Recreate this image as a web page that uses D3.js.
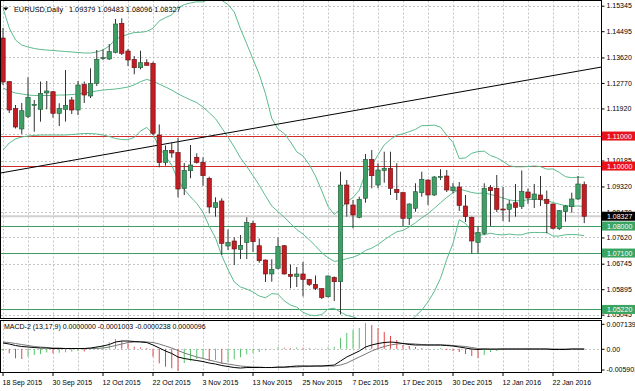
<!DOCTYPE html>
<html>
<head>
<meta charset="utf-8">
<script src="https://cdn.jsdelivr.net/npm/d3@7"></script>
<style>
  body { margin: 0; background: #fff; }
  svg { display: block; font-family: "Liberation Sans", Arial, sans-serif; }
</style>
</head>
<body>
<svg id="chart" width="635" height="391"></svg>
<script>
// ---- data ----
const dates = [
  "2015-09-18","2015-09-21","2015-09-22","2015-09-23","2015-09-24","2015-09-25","2015-09-28","2015-09-29","2015-09-30","2015-10-01",
  "2015-10-02","2015-10-05","2015-10-06","2015-10-07","2015-10-08","2015-10-09","2015-10-12","2015-10-13","2015-10-14","2015-10-15",
  "2015-10-16","2015-10-19","2015-10-20","2015-10-21","2015-10-22","2015-10-23","2015-10-26","2015-10-27","2015-10-28","2015-10-29",
  "2015-10-30","2015-11-02","2015-11-03","2015-11-04","2015-11-05","2015-11-06","2015-11-09","2015-11-10","2015-11-11","2015-11-12",
  "2015-11-13","2015-11-16","2015-11-17","2015-11-18","2015-11-19","2015-11-20","2015-11-23","2015-11-24","2015-11-25","2015-11-26",
  "2015-11-27","2015-11-30","2015-12-01","2015-12-02","2015-12-03","2015-12-04","2015-12-07","2015-12-08","2015-12-09","2015-12-10",
  "2015-12-11","2015-12-14","2015-12-15","2015-12-16","2015-12-17","2015-12-18","2015-12-21","2015-12-22","2015-12-23","2015-12-24",
  "2015-12-28","2015-12-29","2015-12-30","2015-12-31","2016-01-04","2016-01-05","2016-01-06","2016-01-07","2016-01-08","2016-01-11",
  "2016-01-12","2016-01-13","2016-01-14","2016-01-15","2016-01-18","2016-01-19","2016-01-20","2016-01-21","2016-01-22","2016-01-25",
  "2016-01-26","2016-01-27","2016-01-28","2016-01-29"
];

const open = [
  1.14268,1.12812,1.11918,1.11235,1.11652,1.12035,1.11892,1.12435,1.12478,1.11758,
  1.11892,1.12202,1.11868,1.12718,1.12335,1.12758,1.13585,1.13568,1.13792,1.14758,
  1.13835,1.13558,1.13278,1.13445,1.13425,1.11035,1.10118,1.10525,1.10452,1.09252,
  1.09845,1.10292,1.10125,1.09592,1.08618,1.08835,1.07335,1.07502,1.07225,1.07452,
  1.08092,1.07345,1.06868,1.06402,1.06592,1.07345,1.06392,1.06318,1.06402,1.06218,
  1.06058,1.05912,1.05645,1.06292,1.06145,1.09368,1.08702,1.08292,1.08925,1.10225,
  1.09368,1.09852,1.09925,1.09225,1.09112,1.08258,1.08592,1.09112,1.09535,1.09035,
  1.09635,1.09668,1.09178,1.09302,1.08668,1.08292,1.07452,1.07758,1.09292,1.09258,
  1.08568,1.08558,1.08778,1.08652,1.09135,1.08892,1.09035,1.08892,1.08735,1.07912,
  1.08485,1.08645,1.08902,1.09379
];
const high = [
  1.14602,1.12835,1.12035,1.12102,1.12958,1.12202,1.12818,1.12835,1.12502,1.12092,
  1.13202,1.12302,1.12835,1.12818,1.13258,1.13868,1.13892,1.14068,1.14902,1.14925,
  1.13902,1.13668,1.13845,1.13558,1.13478,1.11385,1.10685,1.10785,1.10935,1.10102,
  1.10702,1.10425,1.10292,1.09645,1.08958,1.08925,1.07885,1.07625,1.07702,1.08292,
  1.08178,1.07585,1.06885,1.06892,1.07618,1.07368,1.06718,1.06635,1.06802,1.06235,
  1.06352,1.05935,1.06352,1.06318,1.09812,1.09535,1.08868,1.08978,1.10402,1.10535,
  1.10092,1.10478,1.10478,1.10092,1.09145,1.08758,1.09425,1.09812,1.09552,1.09668,
  1.09892,1.09868,1.09435,1.09468,1.09035,1.08312,1.07985,1.09425,1.09368,1.09702,
  1.09302,1.08868,1.09402,1.09852,1.09252,1.09402,1.09668,1.09185,1.08752,1.08535,
  1.08702,1.09112,1.09668,1.09483
];
const low = [
  1.12702,1.11768,1.11252,1.11068,1.11602,1.11145,1.11478,1.11892,1.11612,1.11335,
  1.11485,1.11735,1.11702,1.12102,1.12268,1.12668,1.13535,1.13535,1.13758,1.13702,
  1.13335,1.13058,1.13225,1.13352,1.11035,1.09958,1.10012,1.10278,1.08958,1.09035,
  1.09592,1.10085,1.09345,1.08425,1.08312,1.07035,1.07202,1.06702,1.06902,1.06902,
  1.07135,1.06778,1.06135,1.06145,1.06558,1.06385,1.05925,1.05968,1.05652,1.06002,
  1.05868,1.05568,1.05618,1.05502,1.05050,1.08312,1.07925,1.08258,1.08778,1.09258,
  1.09258,1.09445,1.09035,1.08868,1.08002,1.08035,1.08478,1.08978,1.08702,1.09002,
  1.09535,1.09135,1.09102,1.08502,1.08135,1.07092,1.07092,1.07702,1.08002,1.08468,
  1.08168,1.08135,1.08312,1.08568,1.08735,1.08602,1.08668,1.07758,1.07892,1.07868,
  1.08145,1.08445,1.08868,1.08096
];
const close = [
  1.12802,1.11868,1.11302,1.11845,1.12292,1.12058,1.12425,1.12502,1.11758,1.11925,
  1.12018,1.11868,1.12702,1.12368,1.12758,1.13558,1.13612,1.13812,1.14735,1.13758,
  1.13535,1.13278,1.13445,1.13358,1.11092,1.10112,1.10525,1.10435,1.09235,1.09858,
  1.10035,1.10118,1.09678,1.08635,1.08778,1.07425,1.07458,1.07235,1.07358,1.08118,
  1.07478,1.06845,1.06402,1.06558,1.07325,1.06402,1.06325,1.06402,1.06218,1.06058,
  1.05925,1.05612,1.06335,1.06145,1.09368,1.08735,1.08368,1.08892,1.10225,1.09678,
  1.09868,1.09925,1.09258,1.09112,1.08258,1.08735,1.09145,1.09558,1.09035,1.09635,
  1.09652,1.09202,1.09302,1.08685,1.08312,1.07502,1.07785,1.09258,1.09178,1.08558,
  1.08552,1.08735,1.08625,1.09152,1.08935,1.09068,1.08885,1.08752,1.07925,1.08512,
  1.08668,1.08902,1.09402,1.08327
];

// Bollinger band lines as drawn
const bbUpper = [
  1.15268,1.14602,1.14202,1.14035,1.13968,1.13918,1.13885,1.13868,1.13852,1.13835,
  1.13818,1.13802,1.13785,1.13768,1.13768,1.13802,1.13868,1.14002,1.14235,1.14312,
  1.14395,1.14452,1.14458,1.14488,1.14595,1.14838,1.14948,1.15038,1.15278,1.15382,
  1.15438,1.15475,1.15472,1.15565,1.15552,1.15525,1.15385,1.15135,1.14568,1.14072,
  1.13562,1.13055,1.12408,1.11588,1.11235,1.11082,1.10805,1.10472,1.10338,1.10048,
  1.09665,1.09172,1.08658,1.08382,1.08568,1.08808,1.08948,1.09198,1.09755,1.10025,
  1.10372,1.10705,1.10888,1.11028,1.11075,1.11145,1.11225,1.11345,1.11352,1.11365,
  1.11298,1.11022,1.10785,1.10252,1.10272,1.10425,1.10482,1.10498,1.10348,1.10278,
  1.10158,1.10012,1.09975,1.09975,1.09985,1.10002,1.09982,1.09895,1.09905,1.09788,
  1.09645,1.09612,1.09628,1.09625
];
const bbMiddle = [
  1.12602,1.12502,1.12435,1.12402,1.12368,1.12352,1.12352,1.12352,1.12352,1.12368,
  1.12368,1.12385,1.12402,1.12435,1.12468,1.12502,1.12535,1.12552,1.12568,1.12598,
  1.12635,1.12705,1.12812,1.12888,1.12828,1.12732,1.12635,1.12532,1.12405,1.12302,
  1.12205,1.12115,1.11965,1.11778,1.11578,1.11272,1.10965,1.10635,1.10268,1.09985,
  1.09682,1.09362,1.09008,1.08668,1.08482,1.08295,1.08085,1.07885,1.07732,1.07542,
  1.07338,1.07112,1.06945,1.06822,1.06848,1.06915,1.06962,1.07045,1.07188,1.07265,
  1.07385,1.07538,1.07682,1.07808,1.07855,1.07972,1.08112,1.08272,1.08412,1.08592,
  1.08778,1.08955,1.09105,1.09232,1.09178,1.09118,1.09088,1.09105,1.09055,1.08998,
  1.08932,1.08872,1.08842,1.08842,1.08878,1.08895,1.08882,1.08842,1.08785,1.08728,
  1.08678,1.08665,1.08668,1.08652
];
const bbLower = [
  1.10535,1.10768,1.10902,1.10968,1.11002,1.11018,1.11035,1.11035,1.11035,1.11035,
  1.11035,1.11052,1.11068,1.11085,1.11085,1.11068,1.11035,1.10985,1.10918,1.10885,
  1.10875,1.10958,1.11165,1.11288,1.11062,1.10625,1.10322,1.10025,1.09532,1.09222,
  1.08972,1.08755,1.08458,1.07992,1.07605,1.07018,1.06545,1.06135,1.05968,1.05898,
  1.05802,1.05668,1.05608,1.05748,1.05728,1.05508,1.05365,1.05298,1.05125,1.05035,
  1.05012,1.05052,1.05232,1.05262,1.05128,1.05022,1.04975,1.04892,1.04622,1.04505,
  1.04398,1.04372,1.04475,1.04588,1.04635,1.04798,1.04998,1.05198,1.05472,1.05818,
  1.06258,1.06888,1.07425,1.08212,1.08085,1.07812,1.07695,1.07712,1.07762,1.07718,
  1.07705,1.07732,1.07708,1.07708,1.07772,1.07788,1.07782,1.07788,1.07665,1.07668,
  1.07712,1.07718,1.07708,1.07678
];

// MACD-2 (13,17,9) sub-window
const macdHist = [
  -0.00063,-0.00129,-0.00271,-0.00291,-0.00226,-0.00177,-0.00149,-0.00100,-0.00129,-0.00114,
  -0.00100,-0.00083,-0.00063,-0.00077,0.00023,0.00060,0.00109,0.00186,0.00280,0.00223,
  0.00157,0.00060,0.00037,0.00023,-0.00226,-0.00414,-0.00511,-0.00557,-0.00634,-0.00406,
  -0.00349,-0.00291,-0.00263,-0.00349,-0.00320,-0.00434,-0.00377,-0.00300,-0.00240,-0.00160,
  -0.00120,-0.00090,-0.00040,0.00010,0.00050,0.00030,0.00020,0.00040,0.00030,0.00020,
  0.00010,0.00005,0.00040,0.00060,0.00309,0.00451,0.00537,0.00594,0.00737,0.00680,
  0.00594,0.00480,0.00366,0.00251,0.00109,0.00080,0.00051,0.00023,-0.00006,0.00009,
  0.00023,-0.00034,-0.00063,-0.00091,-0.00149,-0.00206,-0.00263,-0.00177,-0.00091,-0.00063,
  -0.00034,-0.00034,-0.00034,-0.00020,-0.00020,-0.00006,-0.00006,-0.00006,-0.00020,-0.00011,
  -0.00006,-0.00003,0.00000,0.00000
];
const macdMain = [
  0.00166,0.00137,0.00094,0.00066,0.00051,0.00037,0.00023,0.00023,0.00009,0.00009,
  0.00009,0.00009,0.00009,0.00009,0.00023,0.00051,0.00080,0.00123,0.00194,0.00223,
  0.00223,0.00209,0.00194,0.00180,0.00109,0.00023,-0.00063,-0.00134,-0.00234,-0.00277,
  -0.00306,-0.00334,-0.00363,-0.00406,-0.00434,-0.00477,-0.00506,-0.00534,-0.00549,-0.00534,
  -0.00534,-0.00534,-0.00534,-0.00534,-0.00520,-0.00520,-0.00506,-0.00491,-0.00491,-0.00491,
  -0.00491,-0.00491,-0.00477,-0.00463,-0.00349,-0.00234,-0.00149,-0.00063,0.00051,0.00109,
  0.00151,0.00180,0.00194,0.00180,0.00151,0.00123,0.00109,0.00109,0.00109,0.00109,
  0.00109,0.00094,0.00080,0.00051,0.00023,-0.00006,-0.00020,-0.00006,-0.00006,-0.00006,
  -0.00006,-0.00006,-0.00006,-0.00006,-0.00006,-0.00006,-0.00006,-0.00006,-0.00020,-0.00020,
  -0.00020,-0.00006,-0.00006,-0.00010
];
const macdSignal = [
  0.00194,0.00180,0.00151,0.00123,0.00094,0.00066,0.00051,0.00037,0.00023,0.00023,
  0.00009,0.00009,0.00009,0.00009,0.00009,0.00009,0.00023,0.00051,0.00094,0.00137,
  0.00180,0.00194,0.00209,0.00194,0.00180,0.00137,0.00080,0.00023,-0.00049,-0.00120,
  -0.00177,-0.00234,-0.00277,-0.00320,-0.00363,-0.00406,-0.00434,-0.00463,-0.00491,-0.00506,
  -0.00520,-0.00520,-0.00534,-0.00534,-0.00534,-0.00534,-0.00520,-0.00520,-0.00506,-0.00506,
  -0.00491,-0.00491,-0.00491,-0.00491,-0.00463,-0.00406,-0.00320,-0.00234,-0.00149,-0.00063,
  0.00009,0.00066,0.00109,0.00137,0.00151,0.00151,0.00137,0.00123,0.00109,0.00109,
  0.00109,0.00109,0.00094,0.00080,0.00066,0.00037,0.00009,-0.00006,-0.00020,-0.00020,
  -0.00006,-0.00006,-0.00006,-0.00006,-0.00006,-0.00006,-0.00006,-0.00006,-0.00006,-0.00006,
  -0.00006,-0.00006,-0.00006,-0.00002
];

// axis ticks and labels
const gridPrices = [1.15345,1.14495,1.13620,1.12770,1.11920,1.11070,1.10185,1.09320,1.08470,1.07620,1.06745,1.05895,1.05045];
const labelPrices = [1.15345,1.14495,1.13620,1.12770,1.11920,1.10185,1.09320,1.08470,1.07620,1.06745,1.05895,1.05045];
const macdTicks = [0.007139, 0, -0.005903];
const macdTickLabels = ["0.007139", "0.00", "-0.005903"];
const dateTicks = ["2015-09-18","2015-09-30","2015-10-12","2015-10-22","2015-11-03","2015-11-13",
                   "2015-11-25","2015-12-07","2015-12-17","2015-12-30","2016-01-12","2016-01-22"];

// horizontal levels and trend line
const redLevels = [1.11000, 1.10000];
const greenLevels = [1.08000, 1.07100, 1.05220];
const bidPrice = 1.08327;
const trendDates = ["2015-10-16", "2016-01-12"];
const trendPrices = [1.10518, 1.12722];

const symbol = "EURUSD,Daily";
const macdLabel = "MACD-2 (13,17,9) 0.0000000 -0.0001003 -0.0000238 0.0000096";

// ---- layout ----
const svg = d3.select("#chart");
const plotRight = 601.5;
const main = { top: 0.5, bottom: 318.5 };
const sub = { top: 320.5, bottom: 372.5 };

const x = d3.scalePoint().domain(dates).range([3, 584.25]);
const xi = d3.scaleLinear().domain([0, dates.length - 1]).range([3, 584.25]);
const y = d3.scaleLinear().domain([1.05045, 1.15345]).range([314.7, 5.7]);
const ym = d3.scaleLinear().domain([-0.005903, 0.007139]).range([369.5, 323.8]);

const parse = d3.timeParse("%Y-%m-%d");
const fmtDate = d3.timeFormat("%-d %b %Y");
const fmt5 = d3.format(".5f");

const defs = svg.append("defs");
defs.append("clipPath").attr("id", "clipMain").append("rect")
  .attr("x", 1).attr("y", 1).attr("width", plotRight - 1).attr("height", main.bottom - 1);
defs.append("clipPath").attr("id", "clipSub").append("rect")
  .attr("x", 1).attr("y", sub.top + 0.5).attr("width", plotRight - 1).attr("height", sub.bottom - sub.top - 1);

// grid
const gridDates = dates.filter((d, i) => i % 4 === 0);
const grid = svg.append("g").attr("stroke", "#c4c4c4").attr("stroke-dasharray", "2,2").attr("stroke-width", 1);
[main, sub].forEach(p => {
  grid.append("g").selectAll("line").data(gridDates).join("line")
    .attr("x1", d => Math.round(x(d)) + 0.5).attr("x2", d => Math.round(x(d)) + 0.5)
    .attr("y1", p.top).attr("y2", p.bottom);
});
grid.append("g").selectAll("line").data(gridPrices).join("line")
  .attr("x1", 1).attr("x2", plotRight)
  .attr("y1", d => Math.round(y(d)) + 0.5).attr("y2", d => Math.round(y(d)) + 0.5);
grid.append("line").attr("x1", 1).attr("x2", plotRight)
  .attr("y1", Math.round(ym(0)) + 0.5).attr("y2", Math.round(ym(0)) + 0.5);

// main window
const gMain = svg.append("g").attr("clip-path", "url(#clipMain)");

// levels
gMain.append("line").attr("x1", 1).attr("x2", plotRight)
  .attr("y1", y(bidPrice)).attr("y2", y(bidPrice))
  .attr("stroke", "#d2d2d2").attr("stroke-width", 2);
gMain.selectAll(".lvl-red").data(redLevels).join("line")
  .attr("x1", 1).attr("x2", plotRight)
  .attr("y1", d => Math.round(y(d)) + 0.5).attr("y2", d => Math.round(y(d)) + 0.5)
  .attr("stroke", "#d42a2a").attr("stroke-width", 1);
gMain.selectAll(".lvl-green").data(greenLevels).join("line")
  .attr("x1", 1).attr("x2", plotRight)
  .attr("y1", d => Math.round(y(d)) + 0.5).attr("y2", d => Math.round(y(d)) + 0.5)
  .attr("stroke", "#3f9e63").attr("stroke-width", 1);

// bollinger bands
const bandLine = d3.line().x((d, i) => x(dates[i])).y(d => y(d));
[bbUpper, bbMiddle, bbLower].forEach(arr => {
  gMain.append("path").datum(arr).attr("d", bandLine)
    .attr("fill", "none").attr("stroke", "#5cbb8c").attr("stroke-width", 1);
});

// trend line, extended across the window
const i0 = dates.indexOf(trendDates[0]), i1 = dates.indexOf(trendDates[1]);
const slope = (trendPrices[1] - trendPrices[0]) / (i1 - i0);
const iL = xi.invert(0), iR = xi.invert(plotRight);
gMain.append("line")
  .attr("x1", 0).attr("y1", y(trendPrices[0] + slope * (iL - i0)))
  .attr("x2", plotRight).attr("y2", y(trendPrices[0] + slope * (iR - i0)))
  .attr("stroke", "#000").attr("stroke-width", 1);

// candles
const bars = dates.map((d, i) => ({ date: d, o: open[i], h: high[i], l: low[i], c: close[i] }));
gMain.append("g").selectAll("line").data(bars).join("line")
  .attr("x1", d => x(d.date)).attr("x2", d => x(d.date))
  .attr("y1", d => y(d.h)).attr("y2", d => y(d.l))
  .attr("stroke", "#333").attr("stroke-width", 1);
gMain.append("g").selectAll("rect").data(bars).join("rect")
  .attr("x", d => x(d.date) - 2.2).attr("width", 4.4)
  .attr("y", d => y(Math.max(d.o, d.c)))
  .attr("height", d => Math.max(1, Math.abs(y(d.o) - y(d.c))))
  .attr("fill", d => d.c >= d.o ? "#3e9f66" : "#c11d22")
  .attr("stroke", d => d.c >= d.o ? "#1f5a36" : "#6a1013")
  .attr("stroke-width", 0.6);

// MACD window
const gSub = svg.append("g").attr("clip-path", "url(#clipSub)");
gSub.append("g").selectAll("line").data(macdHist).join("line")
  .attr("x1", (d, i) => x(dates[i])).attr("x2", (d, i) => x(dates[i]))
  .attr("y1", ym(0)).attr("y2", d => ym(d))
  .attr("stroke", (d, i) => (i > 0 && d < macdHist[i - 1]) ? "#e04848" : "#57c46c")
  .attr("stroke-width", 1);
const macdLine = d3.line().x((d, i) => x(dates[i])).y(d => ym(d));
gSub.append("path").datum(macdSignal).attr("d", macdLine)
  .attr("fill", "none").attr("stroke", "#777").attr("stroke-width", 1);
gSub.append("path").datum(macdMain).attr("d", macdLine)
  .attr("fill", "none").attr("stroke", "#000").attr("stroke-width", 1);

// frames
svg.append("rect").attr("x", 0.5).attr("y", main.top).attr("width", plotRight - 0.5)
  .attr("height", main.bottom - main.top).attr("fill", "none").attr("stroke", "#000");
svg.append("rect").attr("x", 0.5).attr("y", sub.top).attr("width", plotRight - 0.5)
  .attr("height", sub.bottom - sub.top).attr("fill", "none").attr("stroke", "#000");

// price axis
const axisG = svg.append("g").attr("transform", `translate(${plotRight},0)`)
  .call(d3.axisRight(y).tickValues(labelPrices).tickFormat(fmt5).tickSize(3).tickPadding(2));
axisG.select(".domain").remove();
axisG.selectAll("text").attr("font-size", 7).attr("font-family", "Liberation Sans, Arial, sans-serif").attr("fill", "#000");

// MACD axis
const subAxis = svg.append("g").attr("transform", `translate(${plotRight},0)`)
  .call(d3.axisRight(ym).tickValues(macdTicks).tickFormat((d, i) => macdTickLabels[i]).tickSize(3).tickPadding(2));
subAxis.select(".domain").remove();
subAxis.selectAll("text").attr("font-size", 7).attr("font-family", "Liberation Sans, Arial, sans-serif").attr("fill", "#000");

// level labels on the price axis
const tags = [
  ...redLevels.map(p => ({ p, fill: "#e8121a", text: "#fff" })),
  ...greenLevels.map(p => ({ p, fill: "#3aa463", text: "#fff" })),
  { p: bidPrice, fill: "#000", text: "#fff" }
];
const tagG = svg.append("g").selectAll("g").data(tags).join("g")
  .attr("transform", d => `translate(${plotRight + 0.5},${y(d.p)})`);
tagG.append("rect").attr("x", 0).attr("y", -4.5).attr("width", 34).attr("height", 9).attr("fill", d => d.fill);
tagG.append("text").attr("x", 5).attr("dy", "0.35em").attr("font-size", 7)
  .attr("fill", d => d.text).text(d => fmt5(d.p));

// date axis
const dateG = svg.append("g").selectAll("g").data(dateTicks).join("g")
  .attr("transform", d => `translate(${x(d)},0)`);
dateG.append("line").attr("x1", 0).attr("x2", 0).attr("y1", sub.bottom).attr("y2", sub.bottom + 3.5).attr("stroke", "#000");
dateG.append("text").attr("x", -0.5).attr("y", 384.5).attr("font-size", 7).attr("fill", "#000")
  .text(d => fmtDate(parse(d)));

// titles
svg.append("path").attr("d", "M3,7.5 L8.5,7.5 L5.75,10.5 Z").attr("fill", "#000");
const last = dates.length - 1;
svg.append("text").attr("x", 14).attr("y", 12).attr("font-size", 7.3).attr("fill", "#000").text(symbol);
svg.append("text").attr("x", 69).attr("y", 12).attr("font-size", 7.3).attr("fill", "#000")
  .text([open[last], high[last], low[last], close[last]].map(fmt5).join(" "));
svg.append("text").attr("x", 4).attr("y", 328.5).attr("font-size", 7).attr("fill", "#000").text(macdLabel);
</script>
</body>
</html>
